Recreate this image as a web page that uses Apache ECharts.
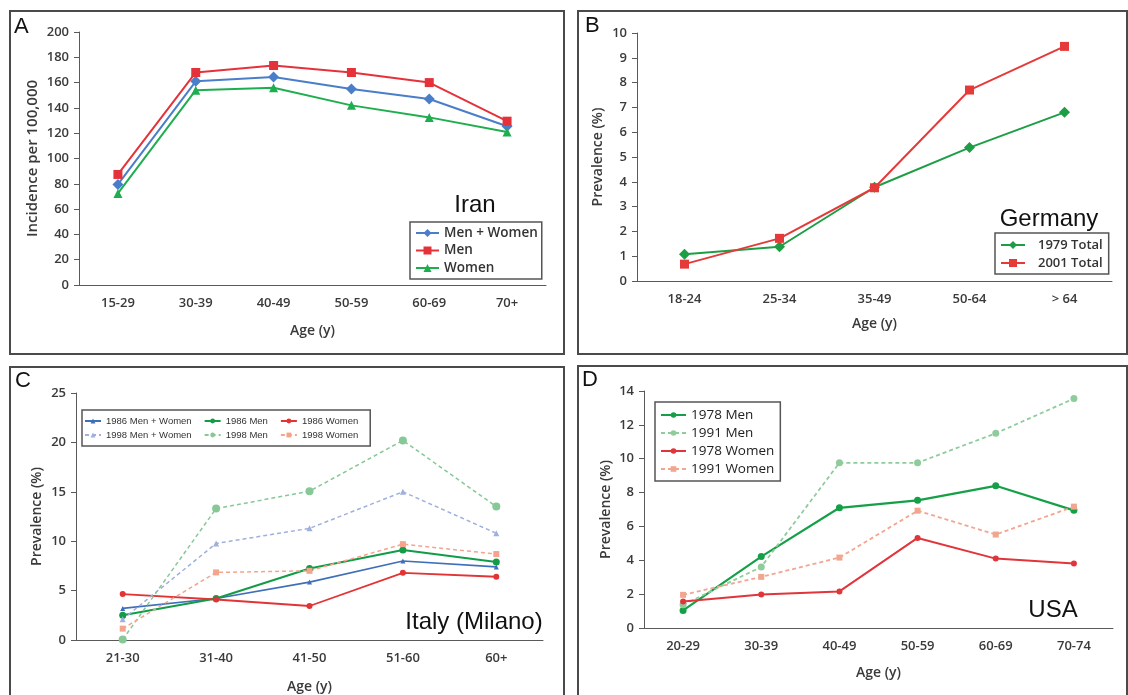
<!DOCTYPE html>
<html>
<head>
<meta charset="utf-8">
<script src="https://cdn.jsdelivr.net/npm/echarts@6/dist/echarts.min.js"></script>
<style>
  html, body { margin: 0; padding: 0; background: #fff; width: 1128px; height: 695px; overflow: hidden; }
  .panel { position: absolute; border: 2px solid #4a4a4a; box-sizing: content-box; background: #fff; }
</style>
</head>
<body>
<div id="pA" class="panel" style="left:9px;top:10px;width:552px;height:341px"></div>
<div id="pB" class="panel" style="left:577px;top:10px;width:547px;height:341px"></div>
<div id="pC" class="panel" style="left:9px;top:366px;width:552px;height:345px"></div>
<div id="pD" class="panel" style="left:577px;top:365px;width:547px;height:345px"></div>
<script>
// panel A - Iran
let ageA = ['15-29', '30-39', '40-49', '50-59', '60-69', '70+'];
let iranBoth = [79.5, 161, 164.5, 155, 147, 125.5];
let iranMen = [87.4, 168, 173.5, 168, 160, 129.5];
let iranWomen = [72.4, 154, 156, 142, 132.5, 121];

// panel B - Germany
let ageB = ['18-24', '25-34', '35-49', '50-64', '> 64'];
let ger1979 = [1.08, 1.38, 3.78, 5.38, 6.8];
let ger2001 = [0.68, 1.72, 3.76, 7.7, 9.46];

// panel C - Italy (Milano)
let ageC = ['21-30', '31-40', '41-50', '51-60', '60+'];
let it86Both = [3.2, 4.2, 5.86, 8.0, 7.4];
let it86Men = [2.5, 4.2, 7.24, 9.1, 7.9];
let it86Women = [4.65, 4.1, 3.44, 6.8, 6.4];
let it98Both = [2.1, 9.77, 11.3, 15.0, 10.8];
let it98Men = [0.05, 13.3, 15.06, 20.2, 13.5];
let it98Women = [1.15, 6.84, 7.0, 9.7, 8.7];

// panel D - USA
let ageD = ['20-29', '30-39', '40-49', '50-59', '60-69', '70-74'];
let us78Men = [1.04, 4.22, 7.1, 7.54, 8.4, 6.95];
let us91Men = [1.37, 3.61, 9.76, 9.76, 11.5, 13.55];
let us78Women = [1.57, 1.98, 2.16, 5.32, 4.1, 3.81];
let us91Women = [1.96, 3.02, 4.16, 6.93, 5.52, 7.17];

let tickFont = { fontFamily: 'Open Sans', fontWeight: 600, fontSize: 13, color: '#3a3a3a' };
let axisGray = '#5a5a5a';

function xAxisOf(cats, gap) {
    return {
        type: 'category',
        data: cats,
        name: 'Age (y)',
        nameLocation: 'middle',
        nameGap: gap,
        nameMoveOverlap: false,
        nameTextStyle: { fontFamily: 'Open Sans', fontWeight: 600, fontSize: 14, color: '#3a3a3a' },
        axisLine: { lineStyle: { color: axisGray, width: 1 } },
        axisTick: { length: 5, lineStyle: { color: axisGray } },
        axisLabel: Object.assign({ interval: 0, margin: 12 }, tickFont),
        splitLine: { show: false }
    };
}

function yAxisOf(name, max, step, gap, nameSize) {
    return {
        type: 'value',
        min: 0,
        max: max,
        interval: step,
        name: name,
        nameLocation: 'middle',
        nameGap: gap,
        nameMoveOverlap: false,
        nameTextStyle: { fontFamily: 'Open Sans', fontWeight: 600, fontSize: nameSize || 14, color: '#3a3a3a' },
        axisLine: { show: true, lineStyle: { color: axisGray, width: 1 } },
        axisTick: { show: true, length: 5, lineStyle: { color: axisGray } },
        axisLabel: Object.assign({ margin: 10 }, tickFont),
        splitLine: { show: false }
    };
}

function line(name, data, color, symbol, size, width, dashed) {
    return {
        name: name,
        type: 'line',
        data: data,
        symbol: symbol,
        symbolSize: size,
        showSymbol: true,
        lineStyle: { color: color, width: width, type: dashed ? [4, 3] : 'solid' },
        itemStyle: { color: color, borderWidth: 0 },
        emphasis: { disabled: true },
        animation: false
    };
}

function labels(letter, lx, ly, country, cx, cy) {
    return [
        { type: 'text', x: lx, y: ly, style: { text: letter, font: '22px "Liberation Sans"', fill: '#111', textAlign: 'left', textVerticalAlign: 'middle' } },
        { type: 'text', x: cx, y: cy, style: { text: country, font: '24px "Liberation Sans"', fill: '#111', textAlign: 'center', textVerticalAlign: 'middle' } }
    ];
}

let legendBox = { backgroundColor: '#fff', borderColor: '#555', borderWidth: 1.5, borderRadius: 0 };

// A
let chartA = echarts.init(document.getElementById('pA'));
chartA.setOption({
    animation: false,
    grid: { left: 68, top: 20, width: 467, height: 253 },
    xAxis: xAxisOf(ageA, 39),
    yAxis: yAxisOf('Incidence per 100,000', 200, 20, 39, 15),
    legend: Object.assign({
        orient: 'vertical', left: 399, top: 210,
        itemWidth: 23, itemHeight: 10, itemGap: 1.5,
        padding: [3, 4, 3, 5],
        textStyle: { fontFamily: 'Open Sans', fontWeight: 600, fontSize: 13.5, lineHeight: 16, color: '#333' },
        data: ['Men + Women', 'Men', 'Women']
    }, legendBox),
    graphic: labels('A', 3, 15, 'Iran', 464, 193),
    series: [
        line('Men + Women', iranBoth, '#4a7ec8', 'diamond', 11, 2),
        line('Men', iranMen, '#e5323a', 'rect', 9, 2),
        line('Women', iranWomen, '#1fae4f', 'triangle', 9, 2)
    ]
});

// B
let chartB = echarts.init(document.getElementById('pB'));
chartB.setOption({
    animation: false,
    grid: { left: 58, top: 21, width: 475, height: 248 },
    xAxis: xAxisOf(ageB, 36),
    yAxis: yAxisOf('Prevalence (%)', 10, 1, 32),
    legend: Object.assign({
        orient: 'vertical', left: 416, top: 221,
        itemWidth: 24, itemHeight: 10, itemGap: 2,
        padding: [4, 6, 3, 5],
        textStyle: { fontFamily: 'Open Sans', fontWeight: 600, fontSize: 13, lineHeight: 16, color: '#333', padding: [0, 0, 0, 8] },
        data: ['1979 Total', '2001 Total']
    }, legendBox),
    graphic: labels('B', 6, 14, 'Germany', 470, 207),
    series: [
        line('1979 Total', ger1979, '#1d9e45', 'diamond', 11, 2),
        line('2001 Total', ger2001, '#e53a3a', 'rect', 9, 2)
    ]
});

// C
let chartC = echarts.init(document.getElementById('pC'));
chartC.setOption({
    animation: false,
    grid: { left: 65, top: 25, width: 467, height: 247 },
    xAxis: xAxisOf(ageC, 40),
    yAxis: yAxisOf('Prevalence (%)', 25, 5, 32),
    legend: Object.assign({
        orient: 'horizontal', left: 71, top: 42, width: 288,
        itemWidth: 16, itemHeight: 6, itemGap: 2,
        padding: [5, 2, 5, 2],
        textStyle: { fontFamily: '"Liberation Sans"', fontSize: 9.5, lineHeight: 12, color: '#333', padding: [0, 10, 0, 0] },
        data: ['1986 Men + Women', '1986 Men', '1986 Women', '1998 Men + Women', '1998 Men', '1998 Women']
    }, legendBox),
    graphic: labels('C', 4, 13, 'Italy (Milano)', 463, 254),
    series: [
        line('1986 Men + Women', it86Both, '#3f6fb8', 'triangle', 5, 1.6),
        line('1986 Men', it86Men, '#139c47', 'circle', 7, 2),
        line('1986 Women', it86Women, '#e23434', 'circle', 6, 1.8),
        line('1998 Men + Women', it98Both, '#9fb0dc', 'triangle', 6, 1.5, true),
        line('1998 Men', it98Men, '#86c896', 'circle', 8, 1.5, true),
        line('1998 Women', it98Women, '#f4a48c', 'rect', 6, 1.5, true)
    ]
});

// D
let chartD = echarts.init(document.getElementById('pD'));
chartD.setOption({
    animation: false,
    grid: { left: 65, top: 24, width: 469, height: 237 },
    xAxis: xAxisOf(ageD, 38),
    yAxis: yAxisOf('Prevalence (%)', 14, 2, 31),
    legend: Object.assign({
        orient: 'vertical', left: 76, top: 35,
        itemWidth: 25, itemHeight: 7, itemGap: 0,
        padding: [4, 6, 3, 5],
        textStyle: { fontFamily: 'Open Sans', fontSize: 13.5, lineHeight: 18, color: '#222' },
        data: ['1978 Men', '1991 Men', '1978 Women', '1991 Women']
    }, legendBox),
    graphic: labels('D', 3, 13, 'USA', 474, 243),
    series: [
        line('1978 Men', us78Men, '#15a048', 'circle', 7, 2.2),
        line('1991 Men', us91Men, '#8fcc9c', 'circle', 7, 1.8, true),
        line('1978 Women', us78Women, '#e0353a', 'circle', 6, 2),
        line('1991 Women', us91Women, '#f2a58f', 'rect', 6, 1.8, true)
    ]
});
</script>
</body>
</html>
